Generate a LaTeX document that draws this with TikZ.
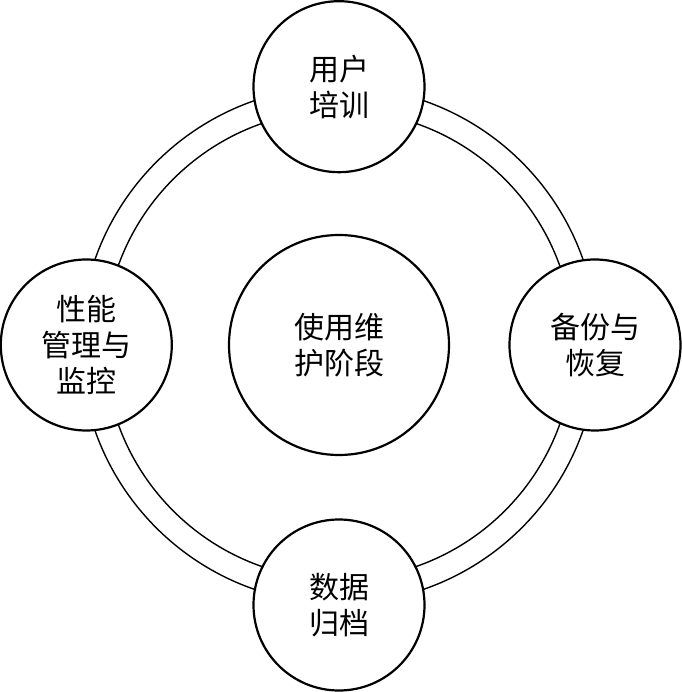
\documentclass[tikz,border=0pt]{standalone}
\usepackage{fontspec}
\setmainfont{Noto Sans CJK SC}

\begin{document}
\begin{tikzpicture}[x=1pt,y=1pt,
	phase/.style={circle,draw,line width=2.2pt,fill=white,minimum size=171pt,inner sep=0pt,align=center,font=\fontsize{30}{36}\selectfont},
	core/.style={phase,minimum size=220pt},
	ring/.style={line width=1.4pt}]
		\useasboundingbox (-339,-347) rectangle (342,345);
		
		\draw[ring] (0,0) circle (258.5);
		\draw[ring] (0,0) circle (234.5);
		
		\node[core] at (0,0) (use) {使用维\\护阶段};
		
		\node[phase] at (0,258.3) (train) {用户\\培训};
		\node[phase] at (256,0) (backup) {备份与\\恢复};
		\node[phase] at (0,-260) (archive) {数据\\归档};
		\node[phase] at (-252.7,0) (perf) {性能\\管理与\\监控};
	\end{tikzpicture}
\end{document}
